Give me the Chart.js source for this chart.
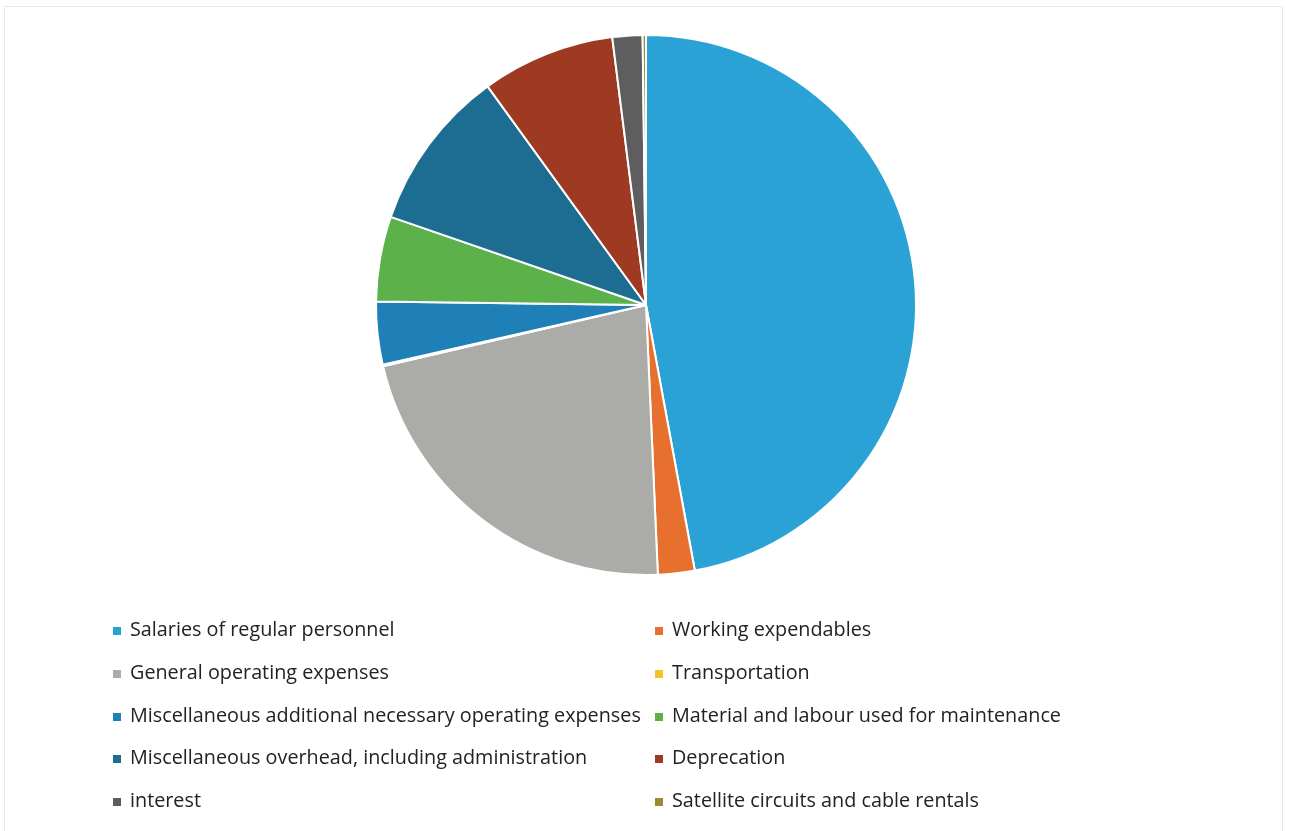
<!DOCTYPE html>
<html>
<head>
<meta charset="utf-8">
<title>Operating cost breakdown</title>
<script src="https://cdn.jsdelivr.net/npm/chart.js@4/dist/chart.umd.min.js"></script>
<style>
  html,body{margin:0;padding:0;background:#fff;}
  #wrap{position:relative;width:1290px;height:831px;overflow:hidden;}
  #frame{position:absolute;left:4px;top:6px;width:1279px;height:830px;border:1px solid #e4eaea;box-sizing:border-box;}
  #pie{position:absolute;left:0;top:0;}
  #legend{position:absolute;left:113px;top:612px;width:1000px;
    font-family:"Open Sans",Lato,sans-serif;font-size:19.8px;color:#222;}
  .item{position:absolute;white-space:nowrap;height:34px;line-height:34px;}
  .box{display:inline-block;width:8px;height:8px;margin-right:9px;vertical-align:1px;}
</style>
</head>
<body>
<div id="wrap">
  <div id="frame"></div>
  <canvas id="pie" width="1290" height="831"></canvas>
  <div id="legend"></div>
</div>
<script>
// cost categories, share of total (%)
const categories=["Salaries of regular personnel","Working expendables","General operating expenses","Transportation",
  "Miscellaneous additional necessary operating expenses","Material and labour used for maintenance",
  "Miscellaneous overhead, including administration","Deprecation","interest","Satellite circuits and cable rentals"];
const shares=[47.2,2.2,22.1,0.1,3.75,5.1,9.75,8.0,1.8,0.2];
const colors=["#2aa2d5","#e8702e","#abaca7","#f5c21f","#1f80b8","#5db14a","#1d6c91","#9e3a22","#5e5e5e","#a08a30"];

const ctx=document.getElementById("pie").getContext("2d");
const chart=new Chart(ctx,{
  type:"pie",
  data:{
    labels:categories,
    datasets:[{data:shares,backgroundColor:colors,borderColor:"#ffffff",borderWidth:2}]
  },
  options:{
    responsive:false,
    animation:false,
    layout:{padding:{left:375,right:373,top:34,bottom:255}},
    plugins:{legend:{display:false},tooltip:{enabled:false}}
  }
});

// two-column legend, row by row
const legend=document.getElementById("legend");
categories.forEach((name,i)=>{
  const el=document.createElement("div");
  el.className="item";
  el.style.left=(i%2?542:0)+"px";
  el.style.top=(Math.floor(i/2)*42.8)+"px";
  el.innerHTML=`<span class="box" style="background:${colors[i]}"></span>${name}`;
  legend.appendChild(el);
});
</script>
</body>
</html>
